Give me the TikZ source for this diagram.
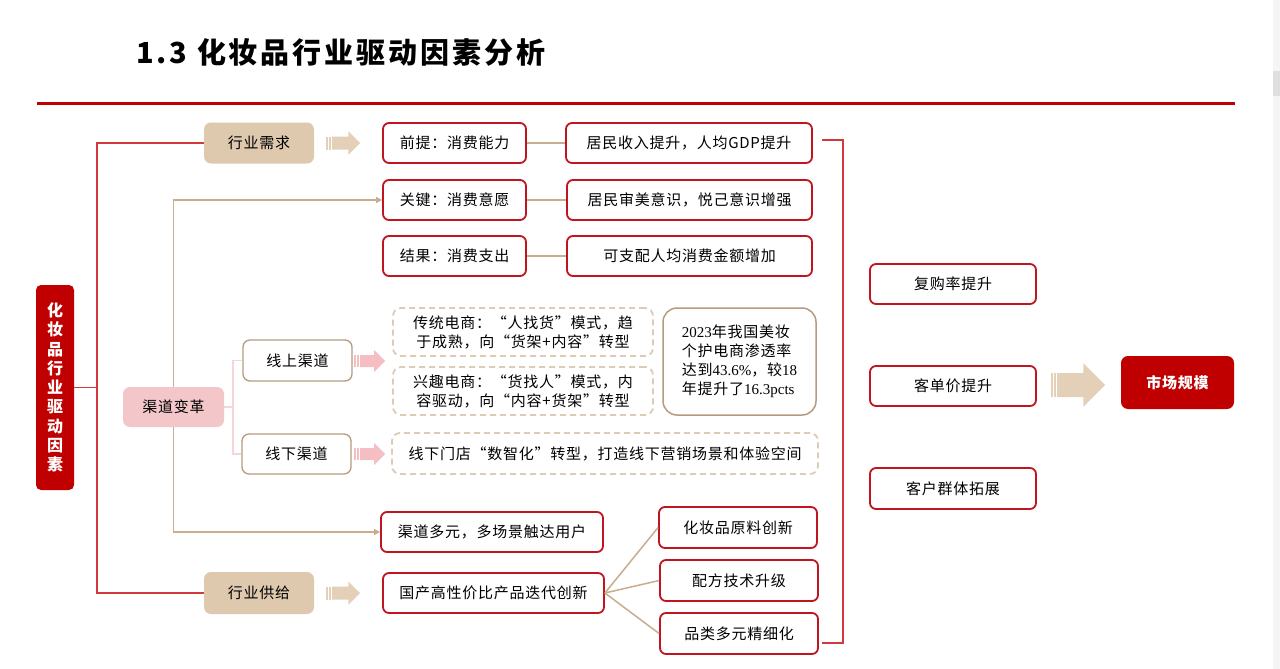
\documentclass[tikz,border=0pt]{standalone}
\usepackage{fontspec}
\setmainfont[LetterSpace=5]{Noto Sans CJK SC}
\newfontfamily\lat{Liberation Serif}
\newfontfamily\titlefont[LetterSpace=10]{Noto Sans CJK SC}
\usetikzlibrary{arrows.meta}
\definecolor{cred}{HTML}{C00000}
\definecolor{boxred}{HTML}{C0141E}
\definecolor{linered}{HTML}{D2383C}
\definecolor{tanfill}{HTML}{DFC9AE}
\definecolor{tanline}{HTML}{C8AD8E}
\definecolor{tanarrow}{HTML}{E4D0B8}
\definecolor{pinkfill}{HTML}{F3C7C9}
\definecolor{pinkline}{HTML}{F4D6D8}
\definecolor{pinkarrow}{HTML}{F4BEC2}
\definecolor{brownline}{HTML}{B59C80}
\definecolor{dashtan}{HTML}{DCCBB5}

\begin{document}
\begin{tikzpicture}[x=1pt,y=-1pt,
  every node/.style={font=\fontsize{15}{19}\selectfont, inner sep=0pt}]
\tikzset{redbox/.style={draw=boxred, line width=1.8pt, rounded corners=6pt, fill=white, minimum height=40pt},
  tanbox/.style={fill=tanfill, rounded corners=7pt, minimum width=110pt, minimum height=41pt},
  chanbox/.style={draw=brownline, line width=1.3pt, rounded corners=7pt, fill=white, minimum width=109pt, minimum height=40pt},
  dashbox/.style={draw=dashtan, line width=1.8pt, dash pattern=on 6pt off 4pt, rounded corners=8pt, minimum height=48pt, align=center},
  link/.style={draw=tanline, line width=1.5pt},
  tanarr/.style={draw=tanline, line width=1.5pt, -{Triangle[length=6pt,width=6pt]}},
  redline/.style={draw=linered, line width=1.8pt},
  pinkedge/.style={draw=pinkline, line width=1.3pt}}
% ---------- page ----------
\fill[white] (0,0) rectangle (1280,669);
\useasboundingbox (0,0) rectangle (1280,669);
\fill[gray!8] (1273,0) rectangle (1280,669);
\fill[gray!25] (1273,71) rectangle (1280,96);
\node[anchor=west, font=\titlefont\fontsize{29}{34}\selectfont\bfseries] (title) at (136,52) {1.3 化妆品行业驱动因素分析};
\draw[cred, line width=3pt] (37,103) -- (1235,103);
% ---------- fat arrows ----------
\newcommand\fatarr[5]{% x, y, length, shaft half height, colour
  \fill[#5] (#1,#2-#4) rectangle ++(1.5,2*#4);
  \fill[#5] (#1+3,#2-#4) rectangle ++(1.5,2*#4);
  \fill[#5] (#1+6,#2-#4) -- (#1+#3-1.8*#4,#2-#4) -- (#1+#3-1.8*#4,#2-1.8*#4) -- (#1+#3,#2)
    -- (#1+#3-1.8*#4,#2+1.8*#4) -- (#1+#3-1.8*#4,#2+#4) -- (#1+6,#2+#4) -- cycle;}
% ---------- left part ----------
\node[fill=cred, rounded corners=5pt, minimum width=38pt, minimum height=205pt, text=white, align=center,
  font=\fontsize{16}{19.25}\selectfont\bfseries] (root) at (55,387.5) {化\\妆\\品\\行\\业\\驱\\动\\因\\素};
\node[tanbox] (need) at (259,143) {行业需求};
\node[tanbox, minimum height=42pt] (supply) at (259,593) {行业供给};
\node[fill=pinkfill, rounded corners=7pt, minimum width=101pt, minimum height=40pt] (chan) at (173.5,407) {渠道变革};
\node[chanbox, minimum height=41pt] (online) at (297.5,360.5) {线上渠道};
\node[chanbox] (offline) at (296.5,454) {线下渠道};
\fatarr{326}{143}{34}{6.5}{tanarrow}
\fatarr{326}{593}{34}{6.5}{tanarrow}
\fatarr{354}{361}{31}{6}{pinkarrow}
\fatarr{354}{454}{31}{6}{pinkarrow}
% ---------- demand ----------
\node[redbox, minimum width=143pt] (prem) at (454.5,143) {前提：消费能力};
\node[redbox, minimum width=143pt] (key) at (454.5,200) {关键：消费意愿};
\node[redbox, minimum width=143pt] (res) at (454.5,256) {结果：消费支出};
\node[redbox, minimum width=246pt] (inc) at (689,143) {居民收入提升，人均GDP提升};
\node[redbox, minimum width=245pt] (aes) at (689.5,200) {居民审美意识，悦己意识增强};
\node[redbox, minimum width=245pt] (spend) at (689.5,256) {可支配人均消费金额增加};
% ---------- channels ----------
\node[dashbox, minimum width=260pt] (trad) at (523,332) {传统电商：“人找货”模式，趋\\于成熟，向“货架+内容”转型};
\node[dashbox, minimum width=260pt] (intr) at (523,391) {兴趣电商：“货找人”模式，内\\容驱动，向“内容+货架”转型};
\node[dashbox, minimum width=426pt, minimum height=41pt] (store) at (605,453.5) {线下门店“数智化”转型，打造线下营销场景和体验空间};
\node[draw=brownline, line width=1.5pt, rounded corners=14pt, minimum width=153pt, minimum height=107pt, align=left] (stat) at (739.5,361.5)
  {{\lat 2023}年我国美妆\\个护电商渗透率\\达到{\lat 43.6\%}，较{\lat 18}\\年提升了{\lat 16.3pcts}};
\node[redbox, minimum width=222pt] (multi) at (492,532) {渠道多元，多场景触达用户};
% ---------- supply ----------
\node[redbox, minimum width=221pt] (dom) at (493.5,593) {国产高性价比产品迭代创新};
\node[redbox, minimum width=158pt, minimum height=41pt] (raw) at (738,527.5) {化妆品原料创新};
\node[redbox, minimum width=158pt, minimum height=41pt] (form) at (739,580.5) {配方技术升级};
\node[redbox, minimum width=158pt, minimum height=41pt] (cat) at (739,633.5) {品类多元精细化};
% ---------- result ----------
\node[redbox, minimum width=166pt] (repur) at (953,284) {复购率提升};
\node[redbox, minimum width=166pt] (price) at (953,386) {客单价提升};
\node[redbox, minimum width=166pt, minimum height=41pt] (cust) at (953,488.5) {客户群体拓展};
\node[fill=cred, rounded corners=7pt, minimum width=113pt, minimum height=53pt, text=white, font=\fontsize{15}{19}\selectfont\bfseries] (market) at (1177.5,382.5) {市场规模};
\fatarr{1051}{385}{54}{12}{tanarrow}
% ---------- connectors ----------
\coordinate (rj) at (97,387.5);
\draw[redline] (root) -- (rj);
\draw[redline] (need.west) -| (rj) |- (supply.west);
\draw[tanarr] (chan.north) |- (key.west);
\draw[tanarr] (chan.south) |- (multi.west);
\coordinate (pj) at (233,407);
\draw[pinkedge] (chan.east) -- (pj);
\draw[pinkedge] (online.west) -| (pj) |- (offline.west);
\draw[link] (prem) -- (inc);
\draw[link] (key) -- (aes);
\draw[link] (res) -- (spend);
\draw[link] (dom.east) -- (raw.west);
\draw[link] (dom.east) -- (form.west);
\draw[link] (dom.east) -- (cat.west);
\coordinate (brt) at (822,140);
\coordinate (brb) at (822,643);
\draw[redline, line width=1.5pt] (brt) -- ++(21,0) |- (brb);
\end{tikzpicture}
\end{document}
